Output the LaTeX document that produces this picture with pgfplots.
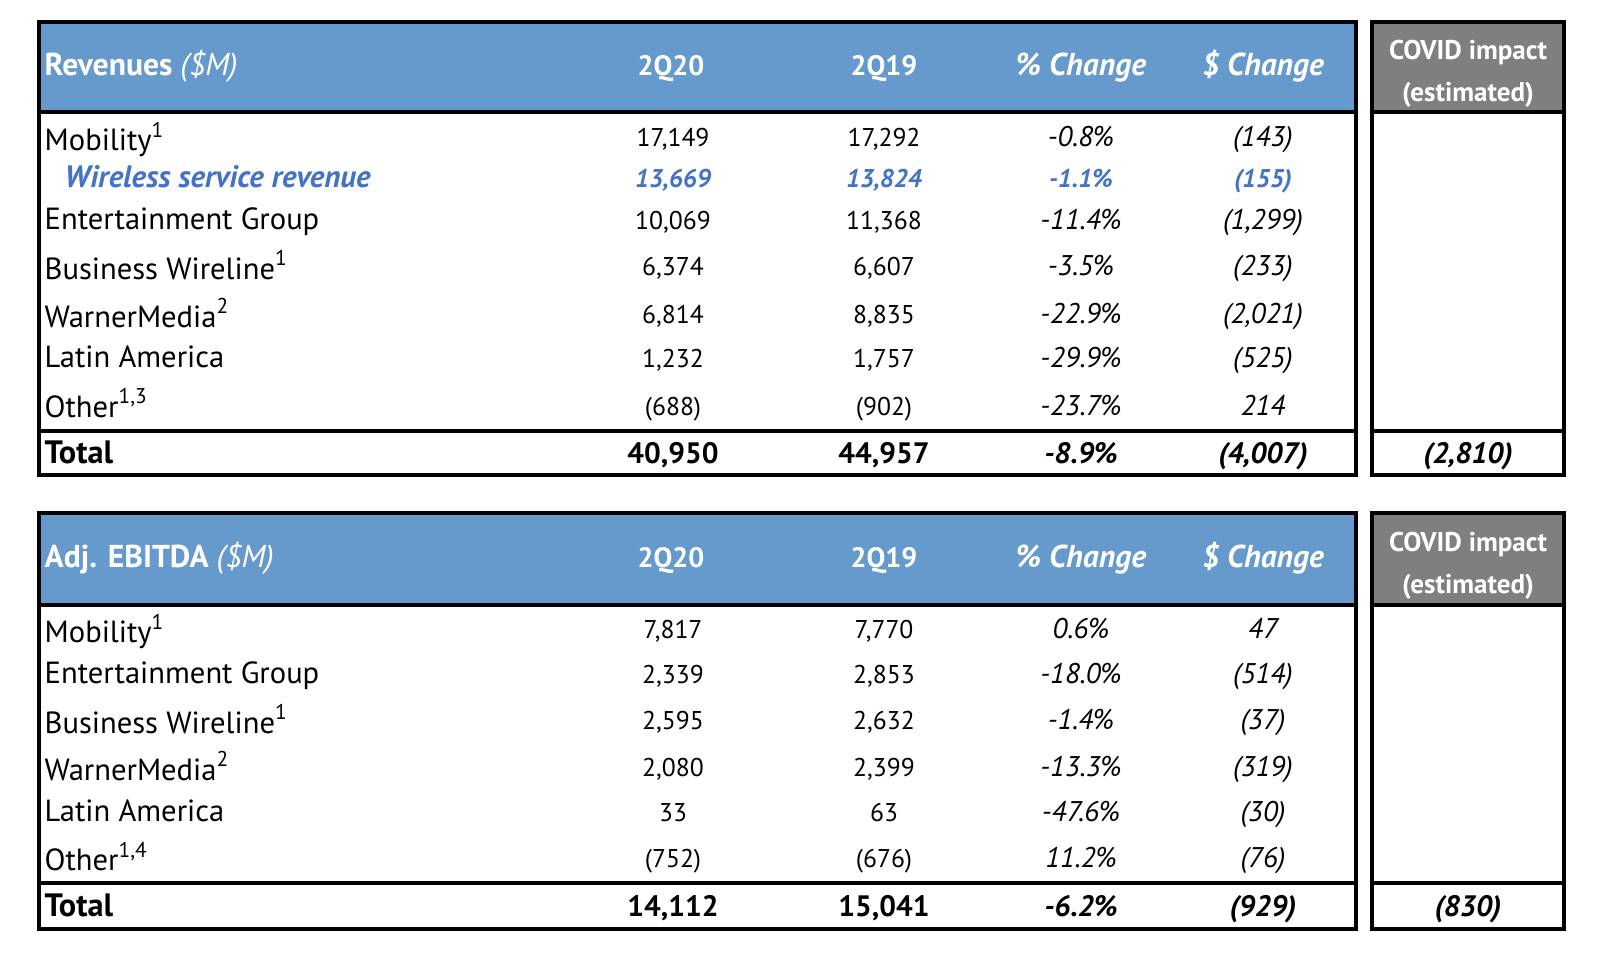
\documentclass[border=0pt]{standalone}
\usepackage{pgfplots}
\pgfplotsset{compat=1.18}
\usepackage{pgfplotstable}
\usepackage{fontspec}
\setmainfont{PT Sans}
\definecolor{hdrblue}{HTML}{6699CC}
\definecolor{hdrgray}{HTML}{7F7F7F}
\definecolor{wlblue}{HTML}{4472C4}
\protected\def\sups#1{\textsuperscript{#1}}
\newcommand\fL{\fontsize{8.7pt}{9pt}\selectfont}
\newcommand\fN{\fontsize{7.3pt}{9pt}\selectfont}
\newcommand\fI{\fontsize{8.1pt}{9pt}\selectfont\itshape}
\newcommand\fW{\fontsize{8.8pt}{9pt}\selectfont\bfseries\itshape}
\newcommand\fH{\fontsize{9pt}{9pt}\selectfont\bfseries}
\newcommand\fQ{\fontsize{8pt}{9pt}\selectfont\bfseries}
\newcommand\fC{\fontsize{7.7pt}{8pt}\selectfont\bfseries}
\newcommand\fT{\fontsize{8.4pt}{9pt}\selectfont\bfseries}
\newcommand\fTL{\fontsize{9.2pt}{9pt}\selectfont\bfseries}

% Revenues ($M)
\pgfplotstableread[col sep=semicolon]{
name;ylab;ynum;q20;q19;pct;chg
Mobility\sups{1};150.7;146;17,149;17,292;-0.8;(143)
Entertainment Group;229.3;229.3;10,069;11,368;-11.4;(1,299)
Business Wireline\sups{1};279.3;275;6,374;6,607;-3.5;(233)
WarnerMedia\sups{2};327.3;323.3;6,814;8,835;-22.9;(2,021)
Latin America;367.7;367.7;1,232;1,757;-29.9;(525)
Other\sups{1,3};417.3;415.5;(688);(902);-23.7;214
}\revrows
\pgfplotstableread[col sep=semicolon]{
name;ylab;ynum;q20;q19;pct;chg
Wireless service revenue;187;187;13,669;13,824;-1.1;(155)
}\revwl
\pgfplotstableread[col sep=semicolon]{
name;ylab;ynum;q20;q19;pct;chg;covid
Total;463.5;463.5;40,950;44,957;-8.9;(4,007);(2,810)
}\revtot
% Adj. EBITDA ($M)
\pgfplotstableread[col sep=semicolon]{
name;ylab;ynum;q20;q19;pct;chg
Mobility\sups{1};642.7;638.3;7,817;7,770;0.6;47
Entertainment Group;683.3;683.3;2,339;2,853;-18.0;(514)
Business Wireline\sups{1};733.3;729.3;2,595;2,632;-1.4;(37)
WarnerMedia\sups{2};780;776;2,080;2,399;-13.3;(319)
Latin America;821.7;821.7;33;63;-47.6;(30)
Other\sups{1,4};870.7;867;(752);(676);11.2;(76)
}\ebrows
\pgfplotstableread[col sep=semicolon]{
name;ylab;ynum;q20;q19;pct;chg;covid
Total;916.7;916.7;14,112;15,041;-6.2;(929);(830)
}\ebtot

\pgfplotsset{
  txt/.style={draw=none, mark=none, forget plot, point meta=explicit symbolic,
    nodes near coords={\pgfplotspointmeta},
    every node near coord/.append style={anchor=base, inner sep=0pt, text=black, #1}},
  txtl/.style={txt={anchor=base west, #1}},
  pcttxt/.style={txt={#1}, nodes near coords={\pgfplotspointmeta\%}},
}

\begin{document}
\begin{tikzpicture}
\begin{axis}[
  width=160mm, height=95.6mm, scale only axis,
  xmin=0, xmax=1600, ymin=0, ymax=956, y dir=reverse,
  hide axis, clip=false]
\path (axis cs:0,0) rectangle (axis cs:1600,956);
% ---- frames ----
\fill[hdrblue] (axis cs:39,22) rectangle (axis cs:1356,112);
\fill[hdrgray] (axis cs:1372,22) rectangle (axis cs:1564,112);
\draw[line width=0.35mm] (axis cs:39,22) rectangle (axis cs:1356,475);
\draw[line width=0.35mm] (axis cs:1372,22) rectangle (axis cs:1564,475);
\draw[line width=0.4mm] (axis cs:39,112) -- (axis cs:1356,112);
\draw[line width=0.4mm] (axis cs:1372,112) -- (axis cs:1564,112);
\draw[line width=0.35mm] (axis cs:39,431) -- (axis cs:1356,431);
\draw[line width=0.35mm] (axis cs:1372,431) -- (axis cs:1564,431);
\fill[hdrblue] (axis cs:39,513) rectangle (axis cs:1356,605);
\fill[hdrgray] (axis cs:1372,513) rectangle (axis cs:1564,605);
\draw[line width=0.35mm] (axis cs:39,513) rectangle (axis cs:1356,929);
\draw[line width=0.35mm] (axis cs:1372,513) rectangle (axis cs:1564,929);
\draw[line width=0.4mm] (axis cs:39,605) -- (axis cs:1356,605);
\draw[line width=0.4mm] (axis cs:1372,605) -- (axis cs:1564,605);
\draw[line width=0.35mm] (axis cs:39,883) -- (axis cs:1356,883);
\draw[line width=0.35mm] (axis cs:1372,883) -- (axis cs:1564,883);
% ---- headers ----
\node[anchor=base west, inner sep=0pt, text=white, font=\fH] at (axis cs:44,75) {Revenues \textit{\mdseries(\$M)}};
\node[anchor=base, inner sep=0pt, text=white, font=\fQ] at (axis cs:671,75) {2Q20};
\node[anchor=base, inner sep=0pt, text=white, font=\fQ] at (axis cs:884,75) {2Q19};
\node[anchor=base, inner sep=0pt, text=white, font=\fH] at (axis cs:1081,75) {\textit{\% Change}};
\node[anchor=base, inner sep=0pt, text=white, font=\fH] at (axis cs:1263,75) {\textit{\$ Change}};
\node[anchor=base, inner sep=0pt, text=white, font=\fC] at (axis cs:1468,59) {COVID impact};
\node[anchor=base, inner sep=0pt, text=white, font=\fC] at (axis cs:1468,101) {(estimated)};
\node[anchor=base west, inner sep=0pt, text=white, font=\fH] at (axis cs:44,567.7) {Adj. EBITDA \textit{\mdseries(\$M)}};
\node[anchor=base, inner sep=0pt, text=white, font=\fQ] at (axis cs:671,567.7) {2Q20};
\node[anchor=base, inner sep=0pt, text=white, font=\fQ] at (axis cs:884,567.7) {2Q19};
\node[anchor=base, inner sep=0pt, text=white, font=\fH] at (axis cs:1081,567.7) {\textit{\% Change}};
\node[anchor=base, inner sep=0pt, text=white, font=\fH] at (axis cs:1263,567.7) {\textit{\$ Change}};
\node[anchor=base, inner sep=0pt, text=white, font=\fC] at (axis cs:1468,551) {COVID impact};
\node[anchor=base, inner sep=0pt, text=white, font=\fC] at (axis cs:1468,593) {(estimated)};
% ---- regular rows ----
\addplot[txtl={font=\fL}] table[x expr=44, y=ylab, meta=name] {\revrows};
\addplot[txt={font=\fN}] table[x expr=673, y=ynum, meta=q20] {\revrows};
\addplot[txt={font=\fN}] table[x expr=884, y=ynum, meta=q19] {\revrows};
\addplot[pcttxt={font=\fI}] table[x expr=1081, y=ynum, meta=pct] {\revrows};
\addplot[txt={font=\fI}] table[x expr=1263, y=ynum, meta=chg] {\revrows};
\addplot[txtl={font=\fL}] table[x expr=44, y=ylab, meta=name] {\ebrows};
\addplot[txt={font=\fN}] table[x expr=673, y=ynum, meta=q20] {\ebrows};
\addplot[txt={font=\fN}] table[x expr=884, y=ynum, meta=q19] {\ebrows};
\addplot[pcttxt={font=\fI}] table[x expr=1081, y=ynum, meta=pct] {\ebrows};
\addplot[txt={font=\fI}] table[x expr=1263, y=ynum, meta=chg] {\ebrows};
% ---- wireless row ----
\addplot[txtl={font=\fW, text=wlblue}] table[x expr=64, y=ylab, meta=name] {\revwl};
\addplot[txt={font=\fN\bfseries\itshape, text=wlblue}] table[x expr=673, y=ynum, meta=q20] {\revwl};
\addplot[txt={font=\fN\bfseries\itshape, text=wlblue}] table[x expr=884, y=ynum, meta=q19] {\revwl};
\addplot[pcttxt={font=\fN\bfseries\itshape, text=wlblue}] table[x expr=1081, y=ynum, meta=pct] {\revwl};
\addplot[txt={font=\fN\bfseries\itshape, text=wlblue}] table[x expr=1263, y=ynum, meta=chg] {\revwl};
% ---- totals ----
\addplot[txtl={font=\fTL}] table[x expr=44, y=ylab, meta=name] {\revtot};
\addplot[txt={font=\fT}] table[x expr=673, y=ynum, meta=q20] {\revtot};
\addplot[txt={font=\fT}] table[x expr=884, y=ynum, meta=q19] {\revtot};
\addplot[pcttxt={font=\fT\itshape}] table[x expr=1081, y=ynum, meta=pct] {\revtot};
\addplot[txt={font=\fT\itshape}] table[x expr=1263, y=ynum, meta=chg] {\revtot};
\addplot[txt={font=\fT\itshape}] table[x expr=1468, y=ynum, meta=covid] {\revtot};
\addplot[txtl={font=\fTL}] table[x expr=44, y=ylab, meta=name] {\ebtot};
\addplot[txt={font=\fT}] table[x expr=673, y=ynum, meta=q20] {\ebtot};
\addplot[txt={font=\fT}] table[x expr=884, y=ynum, meta=q19] {\ebtot};
\addplot[pcttxt={font=\fT\itshape}] table[x expr=1081, y=ynum, meta=pct] {\ebtot};
\addplot[txt={font=\fT\itshape}] table[x expr=1263, y=ynum, meta=chg] {\ebtot};
\addplot[txt={font=\fT\itshape}] table[x expr=1468, y=ynum, meta=covid] {\ebtot};
\end{axis}
\end{tikzpicture}
\end{document}
